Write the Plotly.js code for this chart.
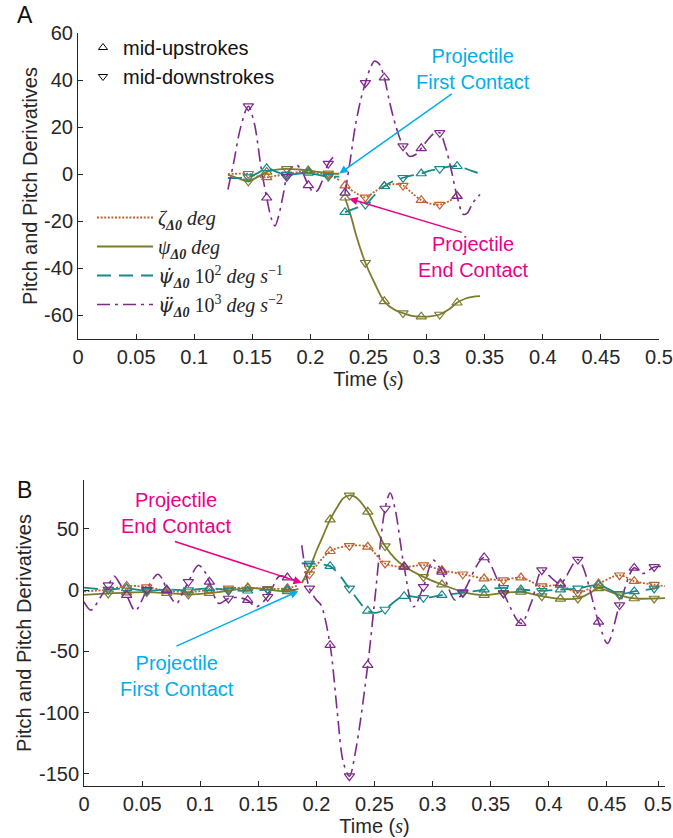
<!DOCTYPE html>
<html>
<head>
<meta charset="utf-8">
<script src="https://cdn.plot.ly/plotly-3.0.1.min.js"></script>
<style>
  html, body { margin: 0; padding: 0; background: #fff; }
  #chart { width: 673px; height: 838px; }
</style>
</head>
<body>
<div id="chart"></div>
<script>
// ===== Panel A : pitch traces, [time (s), value] =====
// before contact
const aZetaPre = [[0.129,0.0],[0.1466,0.2],[0.155,-1.0],[0.1624,-1.3],[0.171,-0.6],[0.1796,0.0],[0.19,1.0],[0.1982,1.2],[0.207,0.4],[0.2154,-0.3],[0.2249,-2.5]];
const aPsiPre = [[0.129,-0.2],[0.138,-1.8],[0.1466,-3.0],[0.155,-1.0],[0.1624,1.0],[0.171,2.0],[0.1796,2.3],[0.19,2.0],[0.1982,1.6],[0.207,1.0],[0.2154,0.4],[0.2249,0.2]];
const aPsiDPre = [[0.129,-1.6],[0.1466,-1.2],[0.155,0.6],[0.1624,2.5],[0.171,1.0],[0.1796,-0.3],[0.19,0.3],[0.1982,0.6],[0.207,-0.3],[0.2154,-1.0],[0.2249,-1.0]];
const aPsiDDPre = [[0.129,-6.5],[0.134,5],[0.14,20],[0.1466,28.9],[0.152,21],[0.1575,3],[0.1624,-10],[0.1665,-19],[0.1695,-22],[0.1725,-18],[0.1765,-9],[0.1796,-1.1],[0.184,3],[0.188,4],[0.193,1],[0.1982,-4.7],[0.2025,-7.5],[0.206,-7],[0.21,-3],[0.2154,4.5],[0.2195,7.2],[0.2225,7.8]];
// after contact
const aZetaPost = [[0.2298,-4.8],[0.2385,-7.8],[0.2473,-9.8],[0.255,-7.5],[0.2636,-5.1],[0.272,-4.2],[0.2797,-4.8],[0.2875,-8.0],[0.2954,-11.0],[0.303,-12.5],[0.3113,-12.9],[0.319,-11.5],[0.3262,-9.3]];
const aPsiPost = [[0.2298,-10],[0.235,-18],[0.24,-27],[0.2473,-37.6],[0.255,-46],[0.2636,-54],[0.272,-57.5],[0.2797,-59],[0.2875,-60.2],[0.2954,-60.5],[0.303,-60.4],[0.3113,-59.6],[0.319,-57.5],[0.3262,-54.6],[0.3335,-52.8],[0.3395,-52.1],[0.346,-51.8]];
const aPsiDPost = [[0.2298,-16.1],[0.2385,-14.5],[0.2473,-12.9],[0.255,-9.0],[0.2636,-5.1],[0.272,-2.8],[0.2797,-1.5],[0.2875,-0.5],[0.2954,0.3],[0.303,1.5],[0.3113,2.3],[0.319,3.2],[0.3262,3.4],[0.333,2.5],[0.34,1.2],[0.346,0.3]];
const aPsiDDPost = [[0.2298,-7.9],[0.234,5],[0.2385,20],[0.243,31],[0.2473,38.8],[0.2515,45],[0.255,48],[0.259,47],[0.2636,41],[0.268,31],[0.2735,20.4],[0.2797,11.9],[0.2854,7.6],[0.291,8.5],[0.2954,11],[0.3,14],[0.3055,17],[0.3113,17.6],[0.316,12],[0.3205,3.4],[0.3262,-9.3],[0.3315,-17],[0.335,-16.5],[0.34,-12],[0.346,-8.6]];

// stroke-phase samples (u = mid-upstroke, d = mid-downstroke)
const aMarkTimePre = [0.1466,0.1624,0.1796,0.1982,0.2154];
const aMarkKindPre = ['d','u','d','u','d'];
const aZetaMarkPre = [0.2,-1.3,0.0,1.2,-0.3];
const aPsiMarkPre = [-3.0,1.0,2.3,1.6,0.4];
const aPsiDMarkPre = [-1.2,2.5,-0.3,0.6,-1.0];
const aPsiDDMarkPre = [28.9,-10,-1.1,-4.7,4.5];

const aMarkTimePost = [0.2298,0.2473,0.2636,0.2797,0.2954,0.3113,0.3262];
const aMarkKindPost = ['u','d','u','d','u','d','u'];
const aZetaMarkPost = [-4.8,-9.8,-5.1,-4.8,-11.0,-12.9,-9.3];
const aPsiMarkPost = [-10,-37.6,-54,-59,-60.5,-59.6,-54.6];
const aPsiDMarkPost = [-16.1,-12.9,-5.1,-1.5,0.3,2.3,3.4];
const aPsiDDMarkPost = [-7.9,38.8,41,11.9,11,17.6,-9.3];

// ===== Panel B =====
const bZetaPre = [[0,-1.0],[0.0209,0.5],[0.0367,3.5],[0.054,2.5],[0.0712,-0.5],[0.0898,-1.5],[0.1079,0.0],[0.1243,1.5],[0.1409,2.0],[0.1581,1.0],[0.175,1.5],[0.1845,4.0]];
const bPsiPre = [[0,-3.8],[0.0209,-2.7],[0.0367,-2.0],[0.054,-1.6],[0.0712,-2.4],[0.0898,-3.5],[0.1079,-2.5],[0.1243,-0.5],[0.1409,1.9],[0.1581,0.5],[0.175,-1.0],[0.1845,1.0]];
const bPsiDPre = [[0,2.0],[0.0209,0.5],[0.0367,1.5],[0.054,-0.5],[0.0712,0.5],[0.0898,0.0],[0.1079,1.5],[0.1243,0.0],[0.1409,-0.5],[0.1581,0.5],[0.175,0.5],[0.1845,0.0]];
const bPsiDDPre = [[0,-9.5],[0.006,-16.3],[0.014,-6],[0.0209,4.1],[0.026,11.4],[0.031,5],[0.0367,-4.1],[0.044,-16.9],[0.05,-8],[0.054,0.5],[0.0635,13],[0.068,8],[0.0712,0],[0.0795,-10.9],[0.085,-2],[0.0898,6.8],[0.0985,20.4],[0.104,15],[0.1079,6.8],[0.116,-10.9],[0.1243,-6.8],[0.132,-6],[0.1409,-8.2],[0.148,-13.6],[0.1581,-5.4],[0.168,11.4],[0.175,10.3],[0.1845,6.8]];

const bZetaPost = [[0.1874,6],[0.194,13],[0.2118,31.8],[0.2284,36.2],[0.2442,35.4],[0.2591,21.8],[0.2755,19],[0.2921,20.4],[0.308,16.3],[0.326,13],[0.3444,9.5],[0.361,8.2],[0.376,10.3],[0.394,3.3],[0.41,4.1],[0.425,-2.2],[0.4428,5.4],[0.4609,12.2],[0.4735,7.3],[0.4907,4.5],[0.5,3.3]];
const bPsiPost = [[0.1874,6],[0.194,17.7],[0.2,32],[0.206,45],[0.2118,57.7],[0.218,68],[0.223,75],[0.2284,77.5],[0.234,76],[0.2442,64],[0.2515,50],[0.2591,36],[0.2675,26],[0.2755,19.6],[0.2921,10.9],[0.308,4.6],[0.326,-1.4],[0.3444,-4.1],[0.361,-2.2],[0.376,-1.4],[0.394,-4.9],[0.41,-7.1],[0.425,-6.8],[0.435,-2.5],[0.4428,1.4],[0.452,-1],[0.4609,-4.1],[0.4735,-6.8],[0.4907,-6.8],[0.5,-6.5]];
const bPsiDPost = [[0.1874,22],[0.194,21.8],[0.2118,19.6],[0.22,12],[0.2284,1.4],[0.2442,-16.9],[0.251,-18.5],[0.2591,-15.8],[0.2675,-9],[0.2755,-4.9],[0.2921,-6.3],[0.308,-4.1],[0.326,-2.2],[0.3444,0.5],[0.361,1.9],[0.376,0.5],[0.394,-0.5],[0.41,0.5],[0.425,1.4],[0.4428,4.1],[0.4609,-3],[0.4735,-1],[0.4907,1.4],[0.5,4]];
const bPsiDDPost = [[0.1874,36.7],[0.19,20],[0.194,1.4],[0.2,-8],[0.204,-12.2],[0.2118,-44.9],[0.218,-100],[0.223,-140],[0.2284,-152],[0.234,-130],[0.2442,-61.2],[0.25,-10],[0.2591,66.7],[0.2635,79.4],[0.268,65],[0.2755,19],[0.2835,-13.6],[0.2921,2.7],[0.3005,24.5],[0.308,15],[0.3195,-8.2],[0.326,-2.2],[0.3444,26.7],[0.361,-2.7],[0.376,-27],[0.385,-10],[0.394,16.3],[0.4,12],[0.41,5.4],[0.425,25],[0.4428,-25.9],[0.4505,-43.5],[0.4609,-12.2],[0.4735,18.2],[0.481,13.6],[0.4907,19],[0.5,19]];

const bMarkTimePre = [0.0209,0.0367,0.054,0.0712,0.0898,0.1079,0.1243,0.1409,0.1581,0.175];
const bMarkKindPre = ['d','u','d','u','d','u','d','u','d','u'];
const bZetaMarkPre = [0.5,3.5,2.5,-0.5,-1.5,0.0,1.5,2.0,1.0,1.5];
const bPsiMarkPre = [-2.7,-2.0,-1.6,-2.4,-3.5,-2.5,-0.5,1.9,0.5,-1.0];
const bPsiDMarkPre = [0.5,1.5,-0.5,0.5,0.0,1.5,0.0,-0.5,0.5,0.5];
const bPsiDDMarkPre = [4.1,-4.1,0.5,0,6.8,6.8,-6.8,-8.2,-5.4,10.3];

const bMarkTimePost = [0.194,0.2118,0.2284,0.2442,0.2591,0.2755,0.2921,0.308,0.326,0.3444,0.361,0.376,0.394,0.41,0.425,0.4428,0.4609,0.4735,0.4907];
const bMarkKindPost = ['d','u','d','u','d','u','d','u','d','u','d','u','d','u','d','u','d','u','d'];
const bZetaMarkPost = [13,31.8,36.2,35.4,21.8,19,20.4,16.3,13,9.5,8.2,10.3,3.3,4.1,-2.2,5.4,12.2,7.3,4.5];
const bPsiMarkPost = [17.7,57.7,77.5,64,36,19.6,10.9,4.6,-1.4,-4.1,-2.2,-1.4,-4.9,-7.1,-6.8,1.4,-4.1,-6.8,-6.8];
const bPsiDMarkPost = [21.8,19.6,1.4,-16.9,-15.8,-4.9,-6.3,-4.1,-2.2,0.5,1.9,0.5,-0.5,0.5,1.4,4.1,-3,-1,1.4];
const bPsiDDMarkPost = [1.4,-44.9,-152,-61.2,66.7,19,2.7,15,-2.2,26.7,-2.7,-27,16.3,5.4,25,-25.9,-12.2,18.2,19];

// ===== axes ticks =====
const xTickVals = [0,0.05,0.1,0.15,0.2,0.25,0.3,0.35,0.4,0.45,0.5];
const xTickText = ['0','0.05','0.1','0.15','0.2','0.25','0.3','0.35','0.4','0.45','0.5'];
const xTickValsB = [0,0.05,0.1,0.15,0.2,0.25,0.3,0.35,0.4,0.45,0.494];
const yTickValsA = [-60,-40,-20,0,20,40,60];
const yTickTextA = ['-60','-40','-20','0','20','40','60'];
const yTickValsB = [-150,-100,-50,0,50];
const yTickTextB = ['-150','-100','-50','0','50'];

// ===== styling =====
const INK = '#262626';
const dotted = (ch) => '<span style="font-family:DejaVu Serif">' + ch + '</span>';
const series = {
  zeta: {color:'#c0622f', dash:'2px,1.6px', width:1.8, name:'<i>ζ</i><sub><i><b>Δ0</b></i></sub> <i>deg</i>'},
  psi:  {color:'#7c7c2c', dash:'solid', width:1.8, name:'<i>ψ</i><sub><i><b>Δ0</b></i></sub> <i>deg</i>'},
  psid: {color:'#16898b', dash:'14px,8px', width:1.8, name:'<i>' + dotted('ψ\u0307') + '</i><sub><i><b>Δ0</b></i></sub> 10<sup>2</sup> <i>deg s</i><sup>−1</sup>'},
  psidd:{color:'#7e2a8c', dash:'13px,5px,3px,5px', width:1.6, name:'<i>' + dotted('ψ\u0308') + '</i><sub><i><b>Δ0</b></i></sub> 10<sup>3</sup> <i>deg s</i><sup>−2</sup>'}
};

function lineTrace(pts, s, xa, ya, legendOn) {
  return {
    type:'scatter', mode:'lines', x:pts.map(p=>p[0]), y:pts.map(p=>p[1]),
    xaxis:xa, yaxis:ya, name:s.name, showlegend:legendOn, legend:'legend',
    line:{color:s.color, dash:s.dash, width:s.width, shape:'spline', smoothing:0.9},
    hoverinfo:'skip'
  };
}
function markTraces(times, kinds, vals, s, xa, ya) {
  const out = [];
  [['u','triangle-up-open'],['d','triangle-down-open']].forEach(([k, sym]) => {
    const xs = [], ys = [];
    times.forEach((t,i) => { if (kinds[i] === k) { xs.push(t); ys.push(vals[i]); } });
    out.push({type:'scatter', mode:'markers', x:xs, y:ys, xaxis:xa, yaxis:ya, showlegend:false,
      marker:{symbol:sym, size:9, color:s.color, line:{color:s.color, width:1.2}}, hoverinfo:'skip'});
  });
  return out;
}

const traces = [];
// panel A
traces.push(lineTrace(aZetaPre, series.zeta, 'x','y', true));
traces.push(lineTrace(aPsiPre, series.psi, 'x','y', true));
traces.push(lineTrace(aPsiDPre, series.psid, 'x','y', true));
traces.push(lineTrace(aPsiDDPre, series.psidd, 'x','y', true));
traces.push(lineTrace(aZetaPost, series.zeta, 'x','y', false));
traces.push(lineTrace(aPsiPost, series.psi, 'x','y', false));
traces.push(lineTrace(aPsiDPost, series.psid, 'x','y', false));
traces.push(lineTrace(aPsiDDPost, series.psidd, 'x','y', false));
traces.push(...markTraces(aMarkTimePre, aMarkKindPre, aZetaMarkPre, series.zeta, 'x','y'));
traces.push(...markTraces(aMarkTimePre, aMarkKindPre, aPsiMarkPre, series.psi, 'x','y'));
traces.push(...markTraces(aMarkTimePre, aMarkKindPre, aPsiDMarkPre, series.psid, 'x','y'));
traces.push(...markTraces(aMarkTimePre, aMarkKindPre, aPsiDDMarkPre, series.psidd, 'x','y'));
traces.push(...markTraces(aMarkTimePost, aMarkKindPost, aZetaMarkPost, series.zeta, 'x','y'));
traces.push(...markTraces(aMarkTimePost, aMarkKindPost, aPsiMarkPost, series.psi, 'x','y'));
traces.push(...markTraces(aMarkTimePost, aMarkKindPost, aPsiDMarkPost, series.psid, 'x','y'));
traces.push(...markTraces(aMarkTimePost, aMarkKindPost, aPsiDDMarkPost, series.psidd, 'x','y'));
// panel B
traces.push(lineTrace(bZetaPre, series.zeta, 'x2','y2', false));
traces.push(lineTrace(bPsiPre, series.psi, 'x2','y2', false));
traces.push(lineTrace(bPsiDPre, series.psid, 'x2','y2', false));
traces.push(lineTrace(bPsiDDPre, series.psidd, 'x2','y2', false));
traces.push(lineTrace(bZetaPost, series.zeta, 'x2','y2', false));
traces.push(lineTrace(bPsiPost, series.psi, 'x2','y2', false));
traces.push(lineTrace(bPsiDPost, series.psid, 'x2','y2', false));
traces.push(lineTrace(bPsiDDPost, series.psidd, 'x2','y2', false));
traces.push(...markTraces(bMarkTimePre, bMarkKindPre, bZetaMarkPre, series.zeta, 'x2','y2'));
traces.push(...markTraces(bMarkTimePre, bMarkKindPre, bPsiMarkPre, series.psi, 'x2','y2'));
traces.push(...markTraces(bMarkTimePre, bMarkKindPre, bPsiDMarkPre, series.psid, 'x2','y2'));
traces.push(...markTraces(bMarkTimePre, bMarkKindPre, bPsiDDMarkPre, series.psidd, 'x2','y2'));
traces.push(...markTraces(bMarkTimePost, bMarkKindPost, bZetaMarkPost, series.zeta, 'x2','y2'));
traces.push(...markTraces(bMarkTimePost, bMarkKindPost, bPsiMarkPost, series.psi, 'x2','y2'));
traces.push(...markTraces(bMarkTimePost, bMarkKindPost, bPsiDMarkPost, series.psid, 'x2','y2'));
traces.push(...markTraces(bMarkTimePost, bMarkKindPost, bPsiDDMarkPost, series.psidd, 'x2','y2'));
// stroke-phase key
traces.push({type:'scatter', mode:'markers', x:[null], y:[null], xaxis:'x', yaxis:'y', name:'mid-upstrokes',
  legend:'legend2', marker:{symbol:'triangle-up-open', size:8, color:'#000', line:{color:'#000', width:1}}});
traces.push({type:'scatter', mode:'markers', x:[null], y:[null], xaxis:'x', yaxis:'y', name:'mid-downstrokes',
  legend:'legend2', marker:{symbol:'triangle-down-open', size:8, color:'#000', line:{color:'#000', width:1}}});

const W = 673, H = 838;
function axisBase() {
  return {showline:true, linecolor:INK, linewidth:1, ticks:'inside', ticklen:5, tickcolor:INK,
    showgrid:false, zeroline:false, automargin:false, tickfont:{size:20, color:INK}};
}
const xTitle = {text:'Time (<span style="font-family:Liberation Serif"><i>s</i></span>)', font:{size:20, color:INK}, standoff:1};
const yTitle = {text:'Pitch and Pitch Derivatives', font:{size:20, color:INK}, standoff:1};

const layout = {
  width:W, height:H, margin:{l:0, r:0, t:0, b:0},
  paper_bgcolor:'#fff', plot_bgcolor:'#fff',
  font:{family:'Liberation Sans, Arial, sans-serif', size:20, color:INK},
  showlegend:true,
  xaxis: Object.assign(axisBase(), {domain:[78/W, 659/W], range:[0,0.5], anchor:'y',
    tickvals:xTickVals, ticktext:xTickText, title:xTitle}),
  yaxis: Object.assign(axisBase(), {domain:[1-339/H, 1-33/H], range:[-70,60], anchor:'x',
    tickvals:yTickValsA, ticktext:yTickTextA, title:yTitle}),
  xaxis2: Object.assign(axisBase(), {domain:[84/W, 665/W], range:[0,0.5], anchor:'y2',
    tickvals:xTickValsB, ticktext:xTickText, title:xTitle}),
  yaxis2: Object.assign(axisBase(), {domain:[1-786/H, 1-480/H], range:[-160,90], anchor:'x2',
    tickvals:yTickValsB, ticktext:yTickTextB, title:yTitle}),
  legend:{x:92/W, y:1-198/H, xanchor:'left', yanchor:'top', bgcolor:'rgba(0,0,0,0)',
    itemwidth:56, traceorder:'normal', font:{family:'Liberation Serif, DejaVu Serif, serif', size:20, color:INK}},
  legend2:{x:83/W, y:1-28/H, xanchor:'left', yanchor:'top', bgcolor:'rgba(0,0,0,0)',
    itemwidth:30, traceorder:'normal', font:{family:'Liberation Sans, Arial, sans-serif', size:20, color:'#111'}},
  annotations:[
    {text:'A', xref:'paper', yref:'paper', x:15/W, y:1-15/H, xanchor:'left', yanchor:'middle', showarrow:false, font:{size:23, color:'#111'}},
    {text:'B', xref:'paper', yref:'paper', x:15/W, y:1-490/H, xanchor:'left', yanchor:'middle', showarrow:false, font:{size:23, color:'#111'}},
    // panel A contact labels
    {text:'Projectile<br>First Contact', xref:'x', yref:'y', x:0.340, y:44.9, showarrow:false, font:{size:20, color:'#00aeef'}},
    {text:'', xref:'x', yref:'y', axref:'x', ayref:'y', x:0.2249, y:0.3, ax:0.323, ay:34.6, showarrow:true,
      arrowhead:2, arrowsize:1.1, arrowwidth:1.5, arrowcolor:'#00aeef', standoff:0},
    {text:'Projectile<br>End Contact', xref:'x', yref:'y', x:0.340, y:-35.2, showarrow:false, font:{size:20, color:'#ec008c'}},
    {text:'', xref:'x', yref:'y', axref:'x', ayref:'y', x:0.2335, y:-10.4, ax:0.3316, ay:-24.9, showarrow:true,
      arrowhead:2, arrowsize:1.1, arrowwidth:1.5, arrowcolor:'#ec008c', standoff:0},
    // panel B contact labels
    {text:'Projectile<br>End Contact', xref:'x2', yref:'y2', x:0.0798, y:62.9, showarrow:false, font:{size:20, color:'#ec008c'}},
    {text:'', xref:'x2', yref:'y2', axref:'x2', ayref:'y2', x:0.1874, y:6.0, ax:0.0769, ay:40.2, showarrow:true,
      arrowhead:2, arrowsize:1.1, arrowwidth:1.5, arrowcolor:'#ec008c', standoff:0},
    {text:'Projectile<br>First Contact', xref:'x2', yref:'y2', x:0.0799, y:-69.8, showarrow:false, font:{size:20, color:'#00aeef'}},
    {text:'', xref:'x2', yref:'y2', axref:'x2', ayref:'y2', x:0.1845, y:-0.8, ax:0.0783, ay:-46.3, showarrow:true,
      arrowhead:2, arrowsize:1.1, arrowwidth:1.5, arrowcolor:'#00aeef', standoff:0}
  ]
};

Plotly.newPlot('chart', traces, layout, {staticPlot:true, displayModeBar:false});
</script>
</body>
</html>
